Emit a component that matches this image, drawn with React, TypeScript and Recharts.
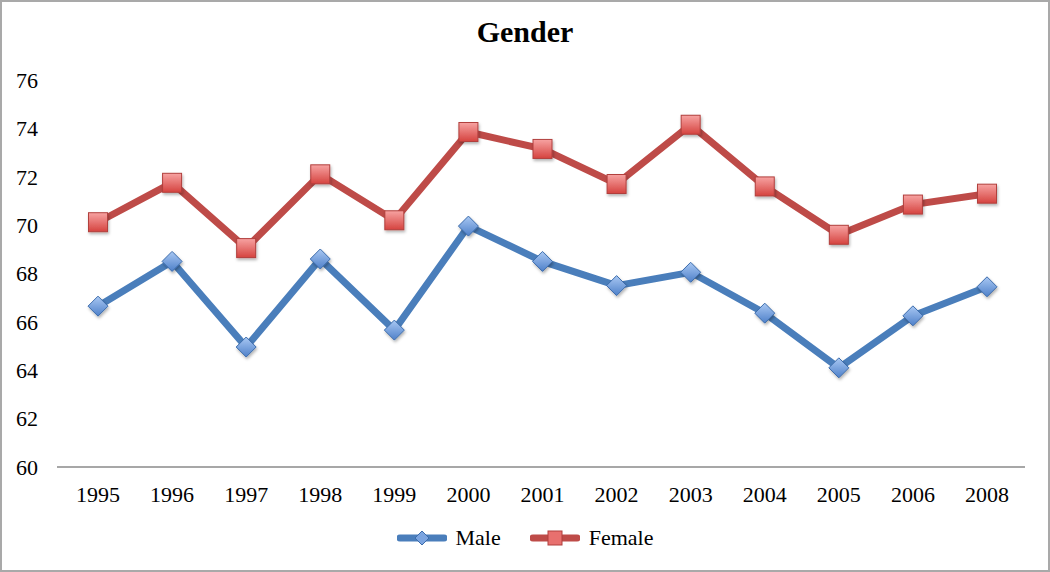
import * as React from "react"
import { Legend, Line, LineChart, XAxis, YAxis } from "recharts"

const years = ["1995", "1996", "1997", "1998", "1999", "2000", "2001", "2002", "2003", "2004", "2005", "2006", "2008"]
const male = [66.65, 68.5, 64.96, 68.6, 65.66, 69.96, 68.5, 67.5, 68.05, 66.36, 64.1, 66.25, 67.45]
const female = [70.12, 71.75, 69.05, 72.1, 70.2, 73.85, 73.15, 71.7, 74.15, 71.6, 69.6, 70.85, 71.3]
const yTicks = [60, 62, 64, 66, 68, 70, 72, 74, 76]
const legendOrder = ["Male", "Female"]

const data = years.map((year, i) => ({ year, Male: male[i], Female: female[i] }))

const FONT = "'Liberation Serif', serif"
const BLUE = "#4a7ebb"
const RED = "#be4b48"

function diamond(cx: number, cy: number, r: number) {
    return `M${cx},${cy - r} L${cx + r},${cy} L${cx},${cy + r} L${cx - r},${cy} Z`
}

function MaleDot(props: any) {
    const { cx, cy, index } = props
    if (cx == null || cy == null) return <g key={`m-${index}`} />
    return (
        <path
            key={`m-${index}`}
            d={diamond(cx, cy, 10)}
            fill="url(#maleFill)"
            stroke="#3c6cab"
            strokeWidth={1}
            filter="url(#dotShadow)"
        />
    )
}

function FemaleDot(props: any) {
    const { cx, cy, index } = props
    if (cx == null || cy == null) return <g key={`f-${index}`} />
    return (
        <rect
            key={`f-${index}`}
            x={cx - 9.5}
            y={cy - 9.5}
            width={19}
            height={19}
            fill="url(#femaleFill)"
            stroke="#b13f3c"
            strokeWidth={1}
            filter="url(#dotShadow)"
        />
    )
}

function LegendContent({ payload }: any) {
    const items = [...(payload || [])].sort(
        (a: any, b: any) => legendOrder.indexOf(a.value) - legendOrder.indexOf(b.value)
    )
    return (
        <div style={{ display: "flex", justifyContent: "center", alignItems: "center", gap: 29 }}>
            {items.map((entry: any) => {
                const isMale = entry.value === "Male"
                const color = isMale ? BLUE : RED
                return (
                    <div key={entry.value} style={{ display: "flex", alignItems: "center" }}>
                        <svg width={50} height={22} style={{ marginRight: 9 }}>
                            <line x1={3} y1={11} x2={47} y2={11} stroke={color} strokeWidth={7} strokeLinecap="round" />
                            {isMale ? (
                                <path d={diamond(25, 11, 7)} fill="#7ba4e0" stroke="#3c6cab" strokeWidth={1} />
                            ) : (
                                <rect x={18} y={4} width={14} height={14} fill="#e8706e" stroke="#b13f3c" strokeWidth={1} />
                            )}
                        </svg>
                        <span style={{ fontFamily: FONT, fontSize: 22, color: "#000" }}>{entry.value}</span>
                    </div>
                )
            })}
        </div>
    )
}

export default function App() {
    return (
        <div style={{ position: "absolute", left: 0, top: 0, width: 1050, height: 572, background: "#fff" }}>
            <div
                style={{
                    position: "absolute",
                    left: 0,
                    top: 15,
                    width: 1050,
                    textAlign: "center",
                    fontFamily: FONT,
                    fontWeight: "bold",
                    fontSize: 30,
                    lineHeight: "normal",
                    color: "#000",
                }}
            >
                Gender
            </div>
            <LineChart width={1050} height={572} data={data} margin={{ top: 80, right: 25, left: 0, bottom: 49 }}>
                <defs>
                    <linearGradient id="maleFill" x1="0" y1="0" x2="0" y2="1">
                        <stop offset="0%" stopColor="#a9c8f3" />
                        <stop offset="100%" stopColor="#4e80c9" />
                    </linearGradient>
                    <linearGradient id="femaleFill" x1="0" y1="0" x2="0" y2="1">
                        <stop offset="0%" stopColor="#f7a3a2" />
                        <stop offset="100%" stopColor="#d5433f" />
                    </linearGradient>
                    <filter id="dotShadow" x="-50%" y="-50%" width="200%" height="200%">
                        <feDropShadow dx="1" dy="2" stdDeviation="1.5" floodColor="#000" floodOpacity="0.3" />
                    </filter>
                </defs>
                <XAxis
                    dataKey="year"
                    axisLine={{ stroke: "#8a8a8a", strokeWidth: 1.5 }}
                    tickLine={false}
                    tickMargin={13}
                    padding={{ left: 41, right: 38 }}
                    tick={{ fill: "#000", fontFamily: FONT, fontSize: 22 }}
                    interval={0}
                />
                <YAxis
                    width={57}
                    domain={[60, 76]}
                    ticks={yTicks}
                    axisLine={false}
                    tickLine={false}
                    tickMargin={13}
                    tick={{ fill: "#000", fontFamily: FONT, fontSize: 22 }}
                />
                <Legend
                    verticalAlign="bottom"
                    content={<LegendContent />}
                    wrapperStyle={{ bottom: 21, left: 0, width: 1050 }}
                />
                <Line
                    dataKey="Male"
                    stroke={BLUE}
                    strokeWidth={7}
                    dot={MaleDot}
                    activeDot={false}
                    isAnimationActive={false}
                />
                <Line
                    dataKey="Female"
                    stroke={RED}
                    strokeWidth={7}
                    dot={FemaleDot}
                    activeDot={false}
                    isAnimationActive={false}
                />
            </LineChart>
            <div
                style={{
                    position: "absolute",
                    left: 0,
                    top: 0,
                    width: 1050,
                    height: 572,
                    boxSizing: "border-box",
                    border: "2px solid #a9a9a9",
                    pointerEvents: "none",
                }}
            />
        </div>
    )
}
